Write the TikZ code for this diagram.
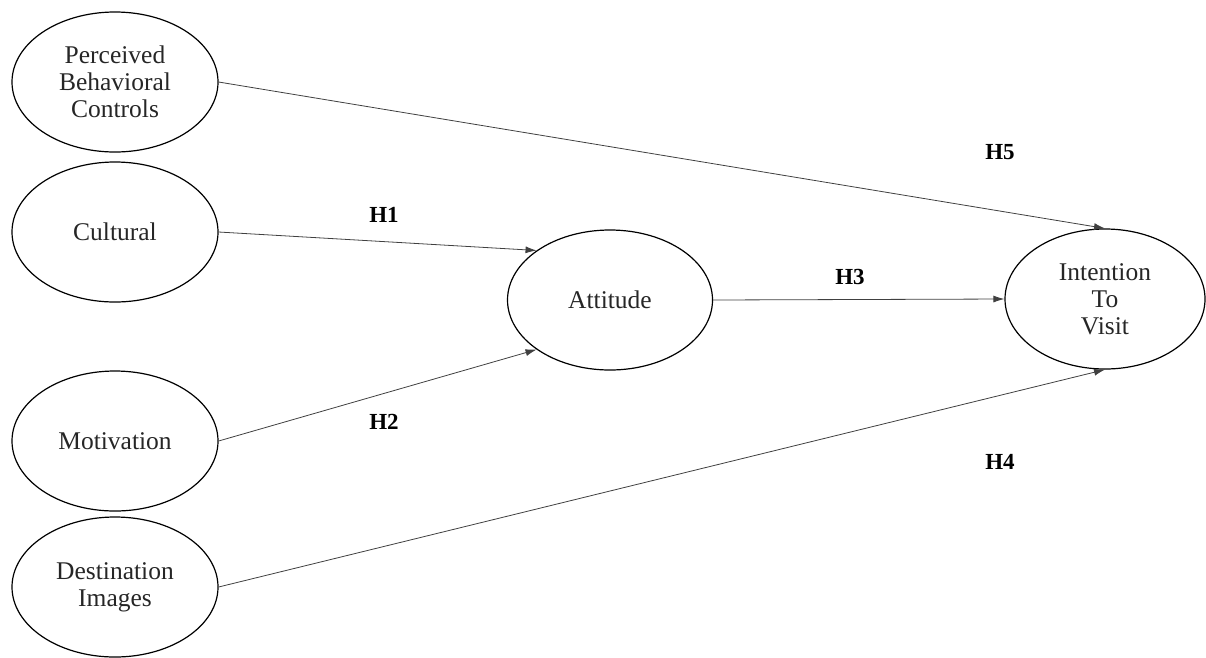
\documentclass[tikz,border=0pt]{standalone}
\usepackage{fontspec}
\setmainfont{Liberation Serif}
\usetikzlibrary{shapes.geometric,arrows.meta}
\begin{document}
\begin{tikzpicture}[x=1pt,y=-1pt,
  var/.style={ellipse,draw=black,line width=1.2pt,minimum width=206pt,minimum height=140pt,inner sep=0pt,
    align=center,font=\fontsize{25.5}{27}\selectfont,text=black!85},
  conn/.style={draw=black!75,line width=0.8pt,-{Latex[length=11pt,width=7pt]}},
  hyp/.style={font=\fontsize{23}{25}\selectfont\bfseries}]
\useasboundingbox (0,0) rectangle (1206,657);
\node[var] (pbc) at (115,82) {Perceived\\Behavioral\\Controls};
\node[var] (cul) at (115,232) {Cultural};
\node[var] (mot) at (115,441) {Motivation};
\node[var] (dst) at (115,587) {Destination\\Images};
\node[var,minimum width=205pt] (att) at (610,300) {Attitude};
\node[var,minimum width=200pt] (itv) at (1105,299) {Intention\\To\\Visit};
\draw[conn] (pbc.east) -- (itv.north);
\draw[conn] (cul.east) -- (att.146);
\draw[conn] (mot.east) -- (att.214);
\draw[conn] (att.east) -- (itv.west);
\draw[conn] (dst.east) -- (itv.south);
\node[hyp] (h5) at (1000,152) {H5};
\node[hyp] (h1) at (384,215) {H1};
\node[hyp] (h3) at (850,277) {H3};
\node[hyp] (h2) at (384,422) {H2};
\node[hyp] (h4) at (1000,462) {H4};
\end{tikzpicture}
\end{document}
